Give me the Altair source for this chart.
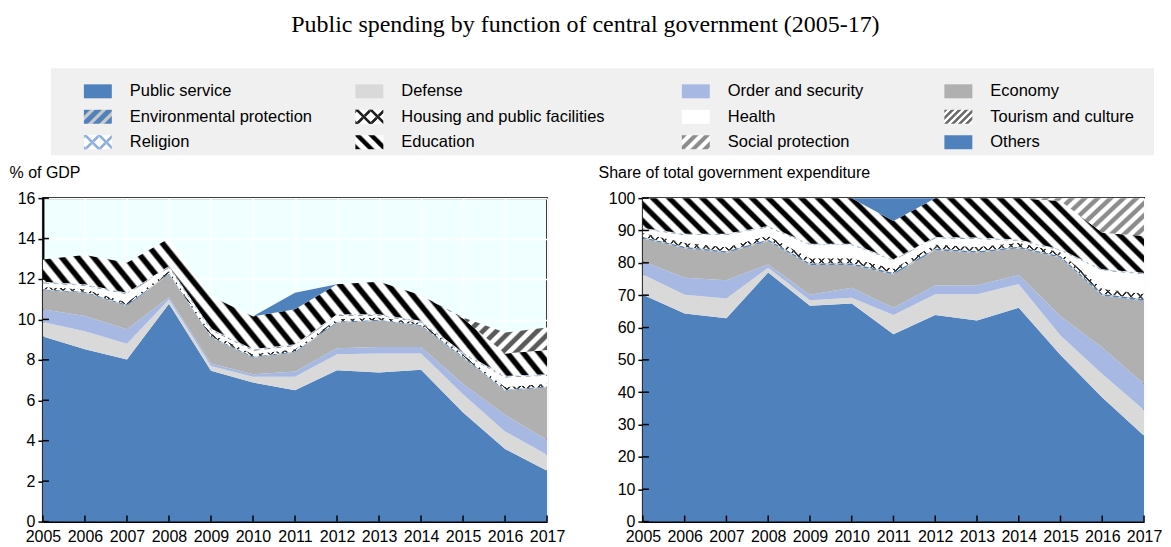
import altair as alt
import pandas as pd

years = list(range(2005, 2018))
series = ["Public service", "Defense", "Order and security", "Economy",
          "Environmental protection", "Housing and public facilities", "Health",
          "Tourism and culture", "Religion", "Education", "Social protection", "Others"]

# ---- Left panel: % of GDP ----
gdp_public_service = [9.15, 8.52, 8.02, 10.78, 7.46, 6.88, 6.50, 7.49, 7.37, 7.51, 5.40, 3.59, 2.52]
gdp_defense        = [0.72, 0.90, 0.78, 0.20, 0.24, 0.28, 0.66, 0.79, 0.94, 0.80, 0.90, 0.87, 0.79]
gdp_order          = [0.63, 0.75, 0.71, 0.12, 0.12, 0.13, 0.26, 0.30, 0.33, 0.33, 0.50, 0.82, 0.72]
gdp_economy        = [0.94, 1.15, 1.16, 1.13, 1.28, 0.82, 0.94, 1.26, 1.29, 1.04, 1.31, 1.19, 2.60]
gdp_environment    = [0.05, 0.05, 0.05, 0.05, 0.05, 0.05, 0.05, 0.05, 0.05, 0.05, 0.05, 0.05, 0.05]
gdp_housing        = [0.12, 0.12, 0.12, 0.12, 0.15, 0.12, 0.12, 0.12, 0.12, 0.10, 0.10, 0.14, 0.14]
gdp_health         = [0.18, 0.17, 0.40, 0.16, 0.17, 0.17, 0.16, 0.17, 0.08, 0.02, 0.02, 0.47, 0.39]
gdp_tourism        = [0.04, 0.04, 0.04, 0.04, 0.04, 0.04, 0.04, 0.04, 0.04, 0.04, 0.04, 0.04, 0.04]
gdp_religion       = [0.04, 0.04, 0.04, 0.04, 0.04, 0.04, 0.04, 0.04, 0.04, 0.04, 0.04, 0.04, 0.04]
gdp_education      = [1.10, 1.45, 1.48, 1.36, 1.60, 1.62, 1.73, 1.48, 1.61, 1.27, 1.69, 1.10, 1.20]
gdp_social         = [0.00, 0.00, 0.00, 0.00, 0.00, 0.00, 0.00, 0.00, 0.00, 0.00, 0.05, 1.04, 1.11]
gdp_others         = [0.00, 0.00, 0.00, 0.00, 0.00, 0.00, 0.82, 0.00, 0.00, 0.00, 0.00, 0.00, 0.00]

# ---- Right panel: share of total government expenditure ----
sh_public_service = [70.1, 64.3, 62.9, 77.0, 66.7, 67.4, 57.9, 63.9, 62.2, 66.1, 51.5, 38.4, 26.5]
sh_defense        = [6.3, 5.8, 6.1, 1.5, 1.7, 1.8, 6.0, 6.4, 8.1, 7.3, 6.0, 7.2, 8.0]
sh_order          = [4.1, 5.3, 5.6, 1.0, 1.7, 3.1, 2.2, 2.7, 2.8, 2.8, 6.0, 8.2, 8.0]
sh_economy        = [7.0, 9.1, 8.5, 7.2, 9.2, 7.0, 10.3, 10.9, 10.0, 8.3, 18.1, 16.0, 25.7]
sh_environment    = [0.5, 0.5, 0.5, 0.5, 0.6, 0.6, 0.5, 0.5, 0.5, 0.5, 0.5, 0.6, 0.6]
sh_housing        = [1.2, 1.2, 1.2, 1.2, 1.5, 1.5, 1.3, 1.3, 1.3, 1.2, 1.2, 1.6, 1.6]
sh_health         = [1.2, 2.4, 3.8, 2.6, 4.1, 4.1, 2.5, 1.9, 2.5, 0.6, 0.5, 5.6, 6.1]
sh_tourism        = [0.2, 0.2, 0.2, 0.2, 0.2, 0.2, 0.2, 0.2, 0.2, 0.2, 0.2, 0.2, 0.2]
sh_religion       = [0.2, 0.2, 0.2, 0.2, 0.2, 0.2, 0.2, 0.2, 0.2, 0.2, 0.2, 0.2, 0.2]
sh_education      = [9.2, 11.0, 11.0, 8.6, 14.1, 14.1, 11.8, 12.0, 12.2, 12.8, 14.9, 11.3, 11.4]
sh_social         = [0.0, 0.0, 0.0, 0.0, 0.0, 0.0, 0.0, 0.0, 0.0, 0.0, 0.9, 10.7, 11.7]
sh_others         = [0.0, 0.0, 0.0, 0.0, 0.0, 0.0, 7.1, 0.0, 0.0, 0.0, 0.0, 0.0, 0.0]

left_values = [gdp_public_service, gdp_defense, gdp_order, gdp_economy, gdp_environment,
               gdp_housing, gdp_health, gdp_tourism, gdp_religion, gdp_education,
               gdp_social, gdp_others]
right_values = [sh_public_service, sh_defense, sh_order, sh_economy, sh_environment,
                sh_housing, sh_health, sh_tourism, sh_religion, sh_education,
                sh_social, sh_others]

left_yticks = [0, 2, 4, 6, 8, 10, 12, 14, 16]
right_yticks = [0, 10, 20, 30, 40, 50, 60, 70, 80, 90, 100]

legend_cols = [0, 1, 2, 3, 0, 1, 2, 3, 0, 1, 2, 3]
legend_rows = [0, 0, 0, 0, 1, 1, 1, 1, 2, 2, 2, 2]


def long_table(values):
    rows = []
    for order, (name, vals) in enumerate(zip(series, values)):
        for yr, v in zip(years, vals):
            rows.append({"year": yr, "series": name, "order": order, "value": v})
    return pd.DataFrame(rows)


BLUE = "#4f81bd"
CLEAR = "rgba(255,255,255,0)"


def stripes(on, off, n, slope, r, duty=0.5, ramp=0.12):
    """Diagonal stripe fill built from a linear gradient (bbox units)."""
    L = (1 + r) / (1 + r * r)
    if slope == "back":
        x1, y1 = 0, 1
        x2, y2 = L, 1 - L * r
    else:
        x1, y1 = 0, 0
        x2, y2 = L, L * r
    nt = n * L
    p = 1.0 / nt
    stops = []
    k = 0
    while k * p < 1:
        b = k * p
        for frac, col in [(0, on), (duty - ramp, on), (duty, off), (1 - ramp, off)]:
            o = b + frac * p
            if o <= 1:
                stops.append({"offset": round(o, 5), "color": col})
        k += 1
    return {"gradient": "linear", "x1": round(x1, 4), "y1": round(y1, 4),
            "x2": round(x2, 4), "y2": round(y2, 4), "stops": stops}


def fills(r_edu, n_edu, r_thin, n_thin, r_soc, n_soc, soc_color):
    return {
        "Public service": [BLUE],
        "Defense": ["#d9d9d9"],
        "Order and security": ["#a7b9e3"],
        "Economy": ["#b0b0b0"],
        "Environmental protection": [stripes(BLUE, "#c8c8c8", n_thin, "fwd", r_thin, 0.6)],
        "Housing and public facilities": ["white",
                                          stripes("#303030", CLEAR, n_thin, "fwd", r_thin, 0.25, 0.08),
                                          stripes("#303030", CLEAR, n_thin, "back", r_thin, 0.25, 0.08)],
        "Health": ["white"],
        "Tourism and culture": [stripes("#7a7a7a", "white", n_thin, "fwd", r_thin, 0.5)],
        "Religion": ["white",
                     stripes("#8fb0e0", CLEAR, n_thin, "fwd", r_thin, 0.3, 0.1),
                     stripes("#8fb0e0", CLEAR, n_thin, "back", r_thin, 0.3, 0.1)],
        "Education": [stripes("black", "white", n_edu, "back", r_edu, 0.45, 0.15)],
        "Social protection": [stripes(soc_color, "white", n_soc, "fwd", r_soc, 0.5, 0.15)],
        "Others": [BLUE],
    }


PLOT_H = 324


def panel(values, ymax, yticks, ytitle, title_x, fill_map, width):
    df = long_table(values)
    base = alt.Chart(df).transform_stack(
        stack="value", groupby=["year"], as_=["y0", "y1"],
        sort=[alt.SortField("order", order="ascending")],
    )
    x_enc = alt.X("year:Q",
                  scale=alt.Scale(domain=[2005, 2017], nice=False, zero=False),
                  axis=alt.Axis(values=years, format="d", title=None, labelFontSize=16,
                                labelColor="black", labelFlush=False, labelOverlap=False,
                                labelPadding=7, domainColor="black", domainWidth=2,
                                ticks=False,
                                grid=True, gridColor="white", gridWidth=1.5,
                                labelFont="Liberation Sans"))
    y_scale = alt.Scale(domain=[0, ymax], nice=False)
    y_axis = alt.Axis(values=yticks, title=ytitle,
                      titleAngle=0, titleAlign="left", titleBaseline="alphabetic",
                      titleX=title_x, titleY=-21, titleFontSize=16,
                      titleFontWeight="normal", titleColor="black",
                      titleFont="Liberation Sans",
                      labelFontSize=16, labelColor="black", labelPadding=3,
                      labelFont="Liberation Sans",
                      domainColor="black", domainWidth=2, tickColor="black",
                      tickWidth=1.5, tickSize=5, grid=True, gridColor="white",
                      gridWidth=1.5)
    y_enc = alt.Y("y0:Q", scale=y_scale, axis=y_axis)
    layers = []
    for name in series:
        for f in fill_map[name]:
            layers.append(
                base.transform_filter(alt.datum.series == name)
                .mark_area(fill=f, strokeWidth=0)
                .encode(x=x_enc, y=y_enc, y2=alt.Y2("y1:Q"))
            )
    # inward x ticks
    tick_df = pd.DataFrame({"year": years})
    layers.append(
        alt.Chart(tick_df).mark_rule(color="black", strokeWidth=1.5)
        .encode(x=x_enc, y=alt.value(PLOT_H), y2=alt.value(PLOT_H - 6))
    )
    # inward y ticks
    ytick_df = pd.DataFrame({"y0": yticks})
    layers.append(
        alt.Chart(ytick_df).mark_rule(color="black", strokeWidth=1.5)
        .encode(y=alt.Y("y0:Q", scale=y_scale, axis=y_axis), x=alt.value(0), x2=alt.value(6))
    )
    return alt.layer(*layers).properties(
        width=width, height=PLOT_H,
        view=alt.ViewBackground(fill="#f0ffff", stroke="black", strokeWidth=2),
    )


left = panel(left_values, 16, left_yticks, "% of GDP", -34,
             fills(0.22, 33, 0.23, 55, 0.23, 39, "#5a5a5a"), 505)
right = panel(right_values, 100, right_yticks, "Share of total government expenditure", -45,
              fills(0.15, 31, 0.12, 55, 0.08, 39, "#8c8c8c"), 502)

# ---- Legend ----
leg_df = pd.DataFrame({"series": series, "col": legend_cols, "row": legend_rows})
leg_fills = {
    "Public service": [BLUE],
    "Defense": ["#d9d9d9"],
    "Order and security": ["#a7b9e3"],
    "Economy": ["#b0b0b0"],
    "Environmental protection": [stripes(BLUE, "#c8c8c8", 3, "fwd", 0.5, 0.6)],
    "Housing and public facilities": ["white",
                                      stripes("#202020", CLEAR, 2.5, "fwd", 0.5, 0.3, 0.1),
                                      stripes("#202020", CLEAR, 2.5, "back", 0.5, 0.3, 0.1)],
    "Health": ["white"],
    "Tourism and culture": [stripes("#6a6a6a", "white", 5, "fwd", 0.5, 0.5)],
    "Religion": ["white",
                 stripes("#8fb0e0", CLEAR, 2.5, "fwd", 0.5, 0.3, 0.1),
                 stripes("#8fb0e0", CLEAR, 2.5, "back", 0.5, 0.3, 0.1)],
    "Education": [stripes("black", "white", 2.5, "back", 0.5, 0.45, 0.15)],
    "Social protection": [stripes("#8c8c8c", "white", 3, "fwd", 0.5, 0.5, 0.15)],
    "Others": [BLUE],
}

lx = alt.X("col:Q", scale=alt.Scale(domain=[0, 1, 2, 3], range=[55, 327, 654, 917]), axis=None)
ly = alt.Y("row:Q", scale=alt.Scale(domain=[0, 2], range=[23, 74]), axis=None)

leg_bg = alt.Chart(alt.Data(values=[{"a": 1}])).mark_rect(fill="#f0f0f0").encode(
    x=alt.value(8), x2=alt.value(1113), y=alt.value(0), y2=alt.value(87))

leg_layers = [leg_bg]
for name in series:
    for f in leg_fills[name]:
        leg_layers.append(
            alt.Chart(leg_df).transform_filter(alt.datum.series == name)
            .mark_rect(width=28, height=14, fill=f)
            .encode(x=lx, y=ly)
        )
leg_layers.append(
    alt.Chart(leg_df).mark_text(align="left", baseline="middle", dx=32, fontSize=16.5,
                                font="Liberation Sans", color="black")
    .encode(x=lx, y=ly, text="series:N")
)
legend = alt.layer(*leg_layers).properties(
    width=1113, height=87, view=alt.ViewBackground(strokeWidth=0))

chart = alt.vconcat(
    legend,
    alt.hconcat(left, right, spacing=31),
    spacing=8,
).properties(
    title=alt.TitleParams("Public spending by function of central government (2005-17)",
                          font="Liberation Serif", fontSize=24, fontWeight="normal",
                          color="black", anchor="middle", offset=31),
    padding={"left": 0, "top": 5, "right": 0, "bottom": 0},
).configure(font="Liberation Sans")

chart.save("out.html", embed_options={"renderer": "svg", "actions": False})
